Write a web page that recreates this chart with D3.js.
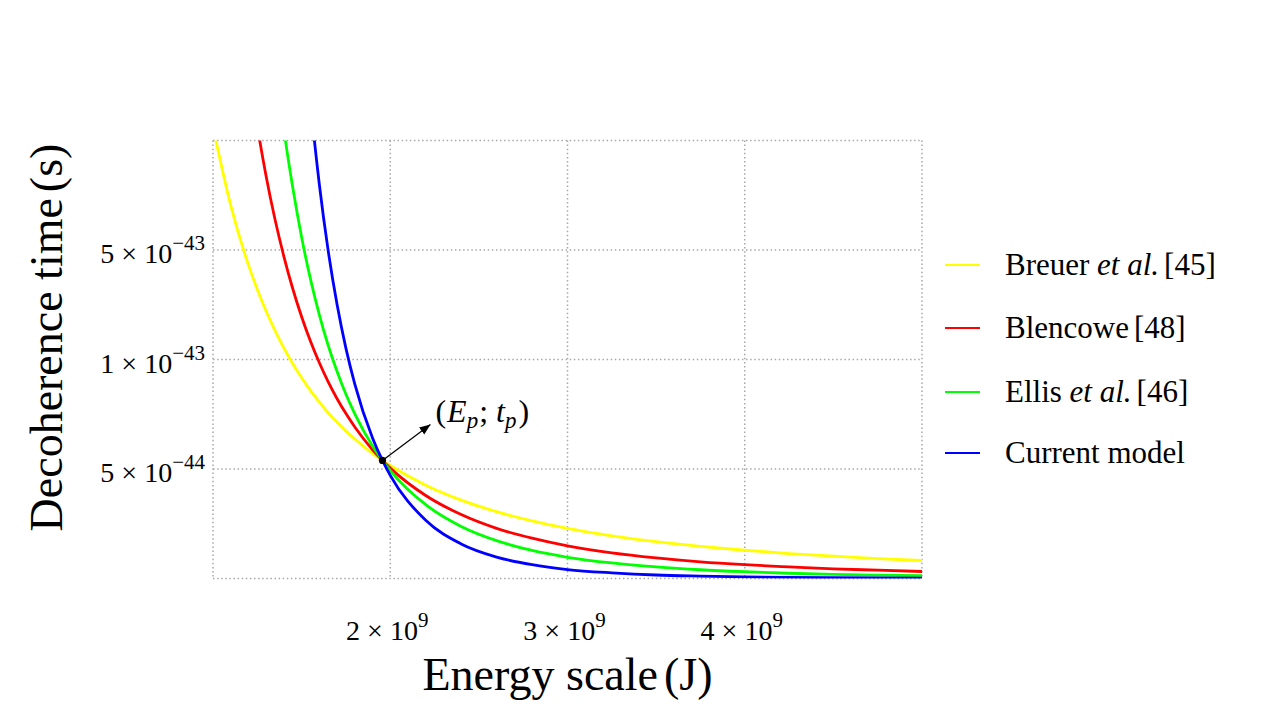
<!DOCTYPE html>
<html>
<head>
<meta charset="utf-8">
<script src="https://cdn.jsdelivr.net/npm/d3@7/dist/d3.min.js"></script>
<style>
  html, body { margin: 0; padding: 0; background: #fff; }
  svg { display: block; }
  text { font-family: "Liberation Serif", "DejaVu Serif", serif; fill: #000; }
</style>
</head>
<body>
<svg id="chart" width="1280" height="720"></svg>
<script>
// Energy scale, in units of 10^9 J
const energy = [1.0, 1.1, 1.2, 1.25, 1.3, 1.35, 1.4, 1.45, 1.5, 1.55, 1.6, 1.65, 1.7, 1.75, 1.8, 1.9, 1.956,
                2.0, 2.2, 2.4, 2.6, 2.8, 3.0, 3.25, 3.5, 3.75, 4.0, 4.25, 4.5, 4.75, 5.0];
// Decoherence time, in units of 10^-44 s
const breuer   = [20.62, 17.04, 14.32, 13.20, 12.20, 11.32, 10.52, 9.81, 9.17, 8.58, 8.06, 7.57, 7.14, 6.73, 6.37, 5.71, 5.39,
                  5.16, 4.26, 3.58, 3.05, 2.63, 2.29, 1.95, 1.68, 1.47, 1.29, 1.14, 1.02, 0.91, 0.82];
const blencowe = [40.3, 30.3, 23.3, 20.65, 18.36, 16.39, 14.70, 13.23, 11.95, 10.83, 9.85, 8.98, 8.21, 7.53, 6.92, 5.88, 5.39,
                  5.04, 3.79, 2.92, 2.29, 1.84, 1.49, 1.17, 0.94, 0.76, 0.63, 0.53, 0.44, 0.38, 0.32];
const ellis    = [78.9, 53.9, 38.0, 32.3, 27.6, 23.75, 20.5, 17.85, 15.58, 13.67, 12.04, 10.64, 9.45, 8.41, 7.52, 6.05, 5.39,
                  4.93, 3.37, 2.38, 1.73, 1.28, 0.97, 0.71, 0.53, 0.40, 0.31, 0.24, 0.19, 0.155, 0.126];
const current  = [302, 170, 101, 79.1, 62.5, 49.9, 40.1, 32.5, 26.5, 21.77, 17.99, 14.96, 12.51, 10.51, 8.88, 6.42, 5.39,
                  4.71, 2.66, 1.58, 0.98, 0.63, 0.41, 0.26, 0.16, 0.11, 0.074, 0.051, 0.036, 0.026, 0.019];

const seriesNames  = ["Breuer", "Blencowe", "Ellis", "Current model"];
const seriesColors = ["#ffff00", "#ff0000", "#00ff00", "#0000ff"];

const xGrid = [1, 2, 3, 4, 5];
const xTicks = [2, 3, 4];
const xTickLabels = [{m: "2", e: "9"}, {m: "3", e: "9"}, {m: "4", e: "9"}];
const yGrid = [0, 5, 10, 15, 20];
const yTicks = [5, 10, 15];
const yTickLabels = [{m: "5", e: "\u221244"}, {m: "1", e: "\u221243"}, {m: "5", e: "\u221243"}];

const planck = {E: 1.956, t: 5.39};

const svg = d3.select("#chart");
const plot = {left: 213, right: 922, top: 140.5, bottom: 578.5};

const x = d3.scaleLinear().domain([1, 5]).range([plot.left, plot.right]);
const y = d3.scaleLinear().domain([0, 20]).range([plot.bottom, plot.top]);

const defs = svg.append("defs");
defs.append("clipPath").attr("id", "clip")
  .append("rect")
  .attr("x", plot.left).attr("y", plot.top)
  .attr("width", plot.right - plot.left).attr("height", plot.bottom - plot.top);
defs.append("marker").attr("id", "arrow")
  .attr("viewBox", "0 0 10 10").attr("refX", 10).attr("refY", 5)
  .attr("markerWidth", 11).attr("markerHeight", 11)
  .attr("markerUnits", "userSpaceOnUse")
  .attr("orient", "auto")
  .append("path").attr("d", "M0,1 L10,5 L0,9 Z").attr("fill", "#000");

// grid
const grid = svg.append("g").attr("stroke", "#a8a8a8").attr("stroke-width", 1.5)
  .attr("stroke-dasharray", "1.5,2.6");
grid.selectAll("line.v").data(xGrid).join("line").attr("class", "v")
  .attr("x1", d => x(d)).attr("x2", d => x(d))
  .attr("y1", plot.top).attr("y2", plot.bottom);
grid.selectAll("line.h").data(yGrid).join("line").attr("class", "h")
  .attr("y1", d => y(d)).attr("y2", d => y(d))
  .attr("x1", plot.left).attr("x2", plot.right);

// curves
const allSeries = [breuer, blencowe, ellis, current];
const line = d3.line().x((d, i) => x(energy[i])).y(d => y(d)).curve(d3.curveMonotoneX);
svg.append("g").attr("clip-path", "url(#clip)")
  .selectAll("path").data(allSeries).join("path")
  .attr("d", d => line(d))
  .attr("fill", "none")
  .attr("stroke", (d, i) => seriesColors[i])
  .attr("stroke-width", 2.8)
  .attr("stroke-linejoin", "round");

// Planck point and annotation
const px = x(planck.E), py = y(planck.t);
svg.append("line")
  .attr("x1", px).attr("y1", py).attr("x2", px + 48).attr("y2", py - 36)
  .attr("stroke", "#000").attr("stroke-width", 1.2)
  .attr("marker-end", "url(#arrow)");
svg.append("circle").attr("cx", px).attr("cy", py).attr("r", 3.6).attr("fill", "#000");

const ann = svg.append("text").attr("x", px + 53).attr("y", py - 38).attr("font-size", 32);
ann.append("tspan").text("(");
ann.append("tspan").attr("font-style", "italic").attr("dx", 1).text("E");
ann.append("tspan").attr("font-style", "italic").attr("font-size", 23).attr("dy", 6).text("p");
ann.append("tspan").attr("dy", -6).attr("dx", 1).text(";");
ann.append("tspan").attr("font-style", "italic").attr("dx", 8).text("t");
ann.append("tspan").attr("font-style", "italic").attr("font-size", 23).attr("dy", 6).text("p");
ann.append("tspan").attr("dy", -6).attr("dx", 2).text(")");

// tick label builder
function sciLabel(sel, lab) {
  sel.append("tspan").text(lab.m);
  sel.append("tspan").attr("dx", 7).text("\u00d7");
  sel.append("tspan").attr("dx", 7).text("10");
  sel.append("tspan").attr("font-size", 21).attr("dy", -13).text(lab.e);
}

// x tick labels
svg.append("g").selectAll("text").data(xTicks).join("text")
  .attr("x", d => x(d) - 3).attr("y", 640).attr("text-anchor", "middle").attr("font-size", 28)
  .each(function(d, i) { sciLabel(d3.select(this), xTickLabels[i]); });

// y tick labels
svg.append("g").selectAll("text").data(yTicks).join("text")
  .attr("x", 205).attr("y", d => y(d) + 13).attr("text-anchor", "end").attr("font-size", 28)
  .each(function(d, i) { sciLabel(d3.select(this), yTickLabels[i]); });

// axis titles
const xTitle = svg.append("text").attr("x", (plot.left + plot.right) / 2).attr("y", 690)
  .attr("text-anchor", "middle").attr("font-size", 46);
xTitle.append("tspan").text("Energy scale");
xTitle.append("tspan").attr("dx", 6).text("(J)");

const yTitle = svg.append("text").attr("transform", "translate(62," + ((plot.top + plot.bottom) / 2 - 22) + ") rotate(-90)")
  .attr("text-anchor", "middle").attr("font-size", 46);
yTitle.append("tspan").text("Decoherence time");
yTitle.append("tspan").attr("dx", 6).text("(s)");

// legend
const legendY = [265, 328, 392, 453];
const items = svg.append("g").selectAll("g").data(seriesNames).join("g")
  .attr("transform", (d, i) => "translate(0," + legendY[i] + ")");
items.append("line").attr("x1", 945).attr("x2", 980).attr("y1", 0).attr("y2", 0)
  .attr("stroke", (d, i) => seriesColors[i]).attr("stroke-width", 2.2);
items.append("text").attr("x", 1005).attr("y", 10).attr("font-size", 31)
  .each(function(d, i) {
    const t = d3.select(this);
    if (i === 0) {
      t.append("tspan").text("Breuer ");
      t.append("tspan").attr("font-style", "italic").text("et al.");
      t.append("tspan").attr("dx", 5).text("[45]");
    } else if (i === 1) {
      t.append("tspan").text("Blencowe");
      t.append("tspan").attr("dx", 5).text("[48]");
    } else if (i === 2) {
      t.append("tspan").text("Ellis ");
      t.append("tspan").attr("font-style", "italic").text("et al.");
      t.append("tspan").attr("dx", 5).text("[46]");
    } else {
      t.append("tspan").text("Current model");
    }
  });
</script>
</body>
</html>
